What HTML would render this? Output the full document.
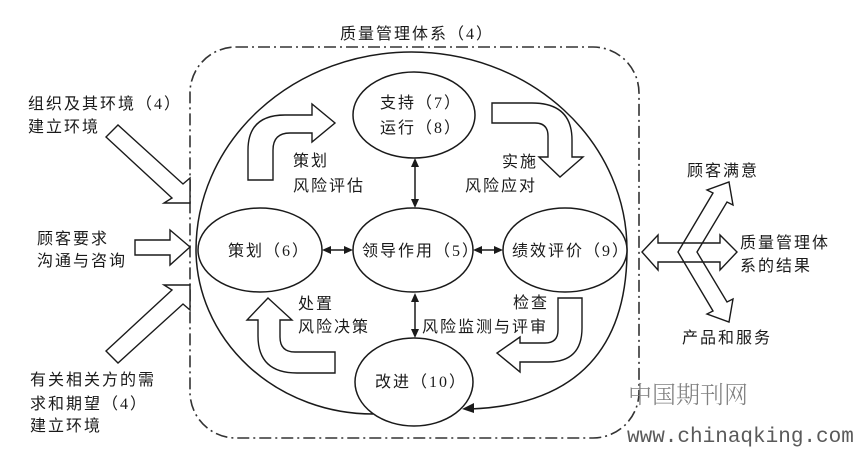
<!DOCTYPE html>
<html>
<head>
<meta charset="utf-8">
<style>
  html,body{margin:0;padding:0;background:#fff;}
  svg{display:block;}
  .t{font-family:"Liberation Sans","Noto Sans CJK SC",sans-serif;font-size:16px;letter-spacing:2px;fill:#1a1a1a;}
  .n{font-family:"Liberation Serif",serif;}
</style>
</head>
<body>
<svg width="856" height="451" viewBox="0 0 856 451" xmlns="http://www.w3.org/2000/svg">
  <rect x="0" y="0" width="856" height="451" fill="#fff"/>

  <!-- dashed system boundary -->
  <rect x="190" y="47" width="449" height="391" rx="46" ry="46" fill="none" stroke="#333" stroke-width="1.6" stroke-dasharray="12 4 2 4"/>

  <!-- big curve -->
  <g fill="none" stroke="#1a1a1a" stroke-width="1.5">
    <path d="M196,250 A215.5 198 0 0 1 627,250 C627,345 580,405 470,409"/>
    <path d="M196,250 A177 165 0 0 0 373,414"/>
  </g>
  <polygon points="462,409 474,403 474,413" fill="#1a1a1a"/>

  <!-- ellipses -->
  <g fill="#fff" stroke="#1a1a1a" stroke-width="1.5">
    <ellipse cx="414" cy="115" rx="61" ry="43"/>
    <ellipse cx="260" cy="250" rx="62" ry="42"/>
    <ellipse cx="413" cy="250" rx="60" ry="42"/>
    <ellipse cx="565" cy="250" rx="62" ry="42"/>
    <ellipse cx="414" cy="382" rx="59" ry="44"/>
  </g>

  <!-- double arrows between ellipses -->
  <g stroke="#1a1a1a" stroke-width="1.5">
    <line x1="415" y1="166" x2="415" y2="200"/>
    <line x1="415" y1="301" x2="415" y2="330"/>
    <line x1="330" y1="250" x2="345" y2="250"/>
    <line x1="481" y1="250" x2="495" y2="250"/>
  </g>
  <g fill="#1a1a1a">
    <polygon points="415,158 411,167 419,167"/>
    <polygon points="415,208 411,199 419,199"/>
    <polygon points="415,293 411,302 419,302"/>
    <polygon points="415,338 411,329 419,329"/>
    <polygon points="322,250 331,246 331,254"/>
    <polygon points="353,250 344,246 344,254"/>
    <polygon points="473,250 482,246 482,254"/>
    <polygon points="503,250 494,246 494,254"/>
  </g>

  <!-- hollow curved arrows -->
  <g fill="#fff" stroke="#1a1a1a" stroke-width="1.4" stroke-linejoin="miter">
    <path d="M248,180 L248,150 Q248,115 285,115 L312,115 L312,104 L335,123 L312,142 L312,133 L290,133 Q273,133 273,150 L273,180 Z"/>
    <path d="M492,103 L532,103 Q572,103 572,140 L572,157 L583,157 L560,177 L539,157 L548,157 L548,136 Q548,123 535,123 L492,123 Z"/>
    <path d="M268,298 L292,320 L280,320 L280,337 Q280,352 295,352 L335,352 L335,373 L297,373 Q258,373 258,336 L258,320 L247,320 Z"/>
    <path d="M558,298 L582,298 L582,328 Q582,362 548,362 L520,362 L520,372 L497,353 L520,337 L520,343 L545,343 Q558,343 558,330 Z"/>
  </g>

  <!-- left input arrows -->
  <g fill="#fff" stroke="#1a1a1a" stroke-width="1.4">
    <polygon points="106,137 118,125 183,184 190,178 190,203 164,203 172,198"/>
    <polygon points="135,240 170,240 170,230 190,247 170,265 170,255 135,255"/>
    <polygon points="106,351 118,363 183,304 190,310 190,285 164,285 172,290"/>
  </g>

  <!-- right output arrows -->
  <polygon points="642,252 658,235 658,243 720,243 720,235 737,252 720,270 720,262 658,262 658,270" fill="#fff" stroke="#1a1a1a" stroke-width="1.4"/>
  <polygon points="678,252 713,193 707,190 729,182 733,205 727,202 697,252 727,302 733,299 729,322 707,314 713,311" fill="none" stroke="#1a1a1a" stroke-width="1.4"/>

  <!-- labels -->
  <text class="t" x="340" y="39">质量管理体系（<tspan class="n">4</tspan>）</text>

  <text class="t" x="28" y="109">组织及其环境（<tspan class="n">4</tspan>）</text>
  <text class="t" x="28" y="132">建立环境</text>
  <text class="t" x="37" y="244">顾客要求</text>
  <text class="t" x="37" y="266">沟通与咨询</text>
  <text class="t" x="30" y="385">有关相关方的需</text>
  <text class="t" x="30" y="409">求和期望（<tspan class="n">4</tspan>）</text>
  <text class="t" x="30" y="431">建立环境</text>

  <text class="t" x="380" y="108">支持（<tspan class="n">7</tspan>）</text>
  <text class="t" x="380" y="133">运行（<tspan class="n">8</tspan>）</text>
  <text class="t" x="293" y="166">策划</text>
  <text class="t" x="293" y="191">风险评估</text>
  <text class="t" x="502" y="167">实施</text>
  <text class="t" x="465" y="191">风险应对</text>
  <text class="t" x="228" y="256">策划（<tspan class="n">6</tspan>）</text>
  <text class="t" x="362" y="256">领导作用（<tspan class="n">5</tspan>）</text>
  <text class="t" x="512" y="256">绩效评价（<tspan class="n">9</tspan>）</text>
  <text class="t" x="298" y="309">处置</text>
  <text class="t" x="298" y="332">风险决策</text>
  <text class="t" x="513" y="308">检查</text>
  <text class="t" x="422" y="332">风险监测与评审</text>
  <text class="t" x="375" y="387">改进（<tspan class="n">10</tspan>）</text>

  <text class="t" x="687" y="176">顾客满意</text>
  <text class="t" x="740" y="248">质量管理体</text>
  <text class="t" x="740" y="271">系的结果</text>
  <text class="t" x="682" y="343">产品和服务</text>

  <!-- watermark -->
  <text x="628" y="403" style="font-family:'Noto Serif CJK SC',serif;font-size:24px;font-weight:300;fill:#808080;">中国期刊网</text>
  <text x="627" y="442" style="font-family:'Liberation Mono',monospace;font-size:21px;fill:#5a5a5a;">www.chinaqking.com</text>
</svg>
</body>
</html>
